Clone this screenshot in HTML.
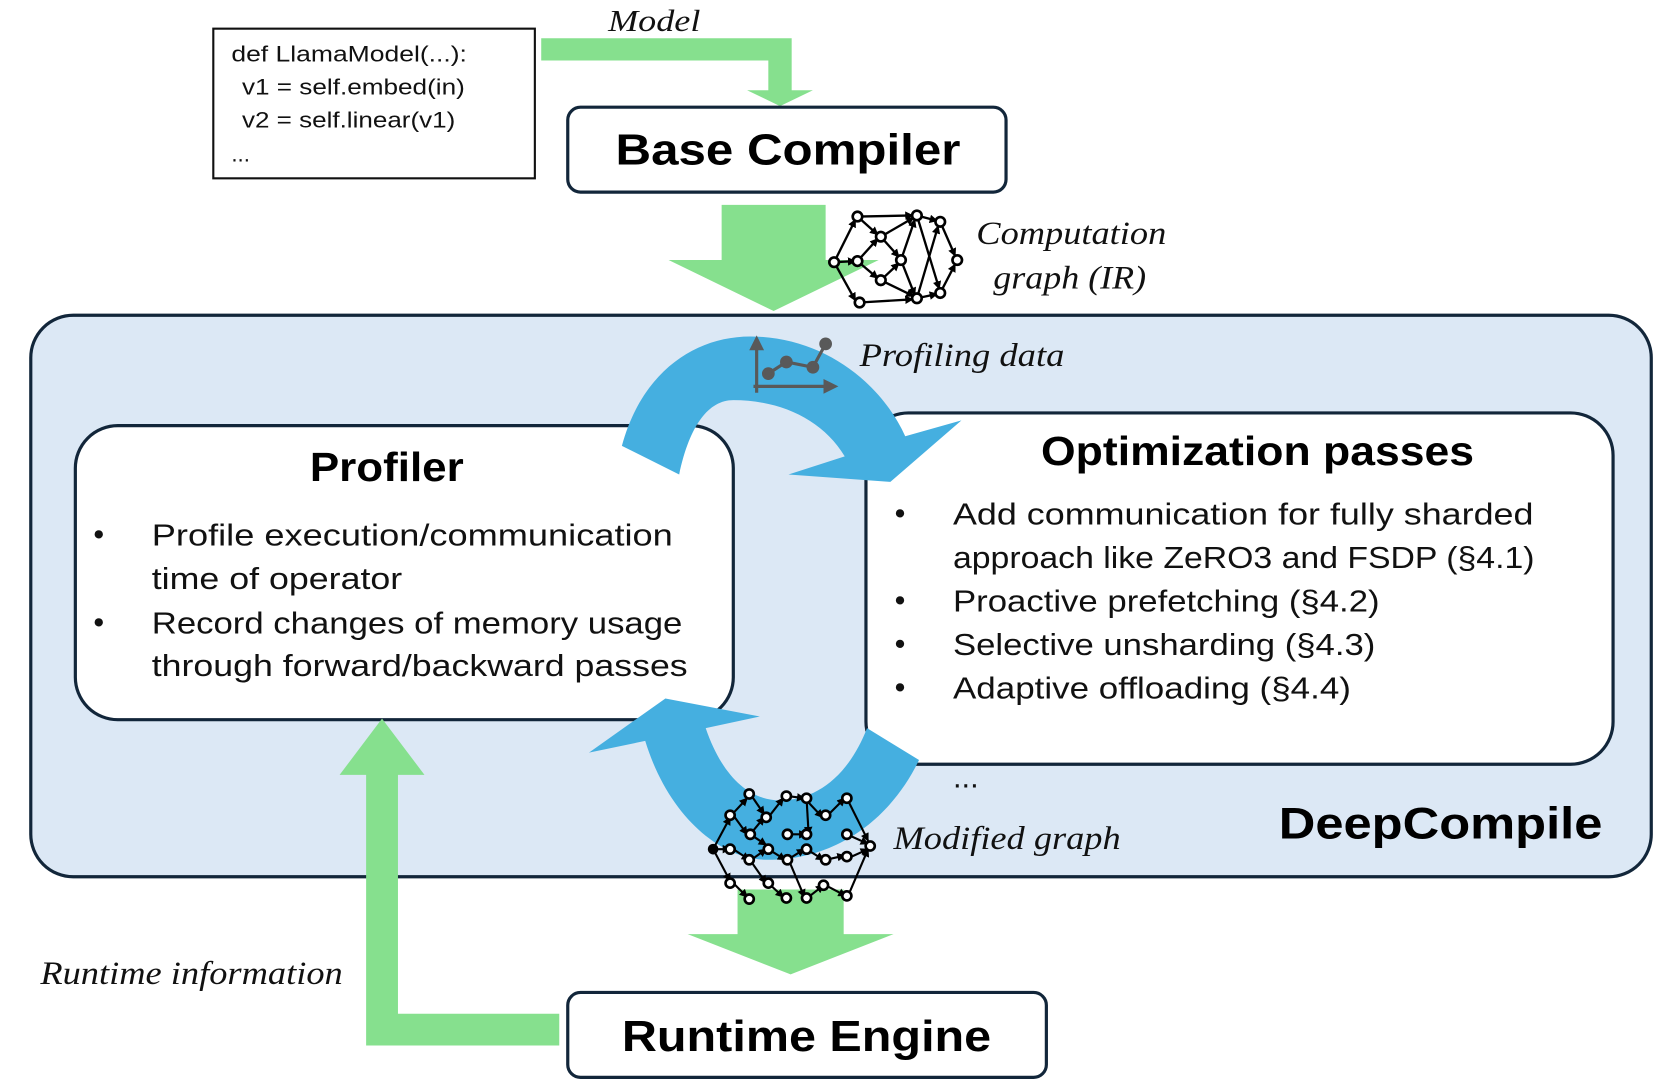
<!DOCTYPE html>
<html><head><meta charset="utf-8"><style>
html,body{margin:0;padding:0;background:#fff;}
svg{display:block;}
.s{font-family:"Liberation Sans",sans-serif;}
.i{font-family:"Liberation Serif",serif;font-style:italic;}
</style></head><body>
<svg width="1664" height="1088" viewBox="0 0 1568 1025" preserveAspectRatio="none" xmlns="http://www.w3.org/2000/svg">
<defs>
<marker id="ah" markerWidth="8" markerHeight="8" refX="7" refY="4" orient="auto" markerUnits="userSpaceOnUse"><path d="M0,0 L8,4 L0,8 Z" fill="#000"/></marker>
</defs>
<rect width="1568" height="1025" fill="#fff"/>
<!-- code box -->
<rect x="201" y="27" width="303" height="141" fill="#fff" stroke="#111" stroke-width="2"/>
<g class="s" font-size="21" fill="#111">
<text x="218" y="58" textLength="222" lengthAdjust="spacingAndGlyphs">def LlamaModel(...):</text>
<text x="228" y="89" textLength="210" lengthAdjust="spacingAndGlyphs">v1 = self.embed(in)</text>
<text x="228" y="120" textLength="201" lengthAdjust="spacingAndGlyphs">v2 = self.linear(v1)</text>
<text x="218" y="152">...</text>
</g>
<text class="i" x="573" y="29" font-size="29" textLength="87" lengthAdjust="spacingAndGlyphs" fill="#111">Model</text>
<!-- model arrow -->
<path d="M510,36 L746,36 L746,85 L766,85 L735,100 L704,85 L724,85 L724,57 L510,57 Z" fill="#86e08e"/>
<!-- base compiler -->
<rect x="535" y="101" width="413" height="80" rx="12" fill="#fff" stroke="#12263a" stroke-width="3"/>
<text class="s" x="580" y="155" font-size="41" font-weight="bold" textLength="325" lengthAdjust="spacingAndGlyphs" fill="#000">Base Compiler</text>
<!-- big green arrow -->
<path d="M680,193 L778,193 L778,245 L828,245 L729,293 L630,245 L680,245 Z" fill="#86e08e"/>
<!-- computation graph icon -->
<g stroke="#000" stroke-width="2.2" fill="none" marker-end="url(#ah)">
<line x1="786" y1="247" x2="806" y2="207"/><line x1="786" y1="247" x2="806" y2="283"/><line x1="786" y1="247" x2="806" y2="246"/>
<line x1="808" y1="204" x2="860" y2="203"/><line x1="808" y1="204" x2="827" y2="221"/>
<line x1="808" y1="246" x2="827" y2="225"/><line x1="808" y1="246" x2="827" y2="262"/>
<line x1="830" y1="223" x2="861" y2="205"/><line x1="830" y1="223" x2="847" y2="242"/>
<line x1="830" y1="264" x2="847" y2="248"/><line x1="830" y1="264" x2="861" y2="279"/>
<line x1="810" y1="285" x2="860" y2="282"/>
<line x1="849" y1="245" x2="862" y2="207"/><line x1="849" y1="245" x2="862" y2="278"/>
<line x1="864" y1="203" x2="883" y2="208"/><line x1="864" y1="203" x2="885" y2="272"/>
<line x1="864" y1="281" x2="884" y2="213"/><line x1="864" y1="281" x2="883" y2="277"/>
<line x1="886" y1="209" x2="900" y2="241"/><line x1="886" y1="276" x2="900" y2="249"/>
</g>
<g fill="#fff" stroke="#000" stroke-width="2.5">
<circle cx="808" cy="204" r="4.5"/><circle cx="864" cy="203" r="4.5"/><circle cx="886" cy="209" r="4.5"/><circle cx="830" cy="223" r="4.5"/>
<circle cx="786" cy="247" r="4.5"/><circle cx="808" cy="246" r="4.5"/><circle cx="849" cy="245" r="4.5"/><circle cx="902" cy="245" r="4.5"/>
<circle cx="830" cy="264" r="4.5"/><circle cx="810" cy="285" r="4.5"/><circle cx="864" cy="281" r="4.5"/><circle cx="886" cy="276" r="4.5"/>
</g>
<text class="i" x="920" y="230" font-size="31" textLength="179" lengthAdjust="spacingAndGlyphs" fill="#111">Computation</text>
<text class="i" x="936" y="272" font-size="31" textLength="144" lengthAdjust="spacingAndGlyphs" fill="#111">graph (IR)</text>
<!-- DeepCompile container -->
<rect x="29" y="297" width="1527" height="529" rx="40" fill="#dce8f5" stroke="#12263a" stroke-width="3"/>
<!-- profiler box -->
<rect x="71" y="401" width="620" height="277" rx="40" fill="#fff" stroke="#12263a" stroke-width="3"/>
<text class="s" x="292" y="453" font-size="38" font-weight="bold" textLength="145" lengthAdjust="spacingAndGlyphs" fill="#000">Profiler</text>
<g class="s" font-size="29" fill="#111">
<text x="88" y="513">•</text><text x="143" y="514" textLength="491" lengthAdjust="spacingAndGlyphs">Profile execution/communication</text>
<text x="143" y="555" textLength="236" lengthAdjust="spacingAndGlyphs">time of operator</text>
<text x="88" y="596">•</text><text x="143" y="597" textLength="500" lengthAdjust="spacingAndGlyphs">Record changes of memory usage</text>
<text x="143" y="637" textLength="505" lengthAdjust="spacingAndGlyphs">through forward/backward passes</text>
</g>
<!-- opt box -->
<rect x="816" y="389" width="704" height="331" rx="40" fill="#fff" stroke="#12263a" stroke-width="3"/>
<text class="s" x="981" y="438" font-size="38" font-weight="bold" textLength="408" lengthAdjust="spacingAndGlyphs" fill="#000">Optimization passes</text>
<g class="s" font-size="29" fill="#111">
<text x="843" y="493">•</text><text x="898" y="494" textLength="547" lengthAdjust="spacingAndGlyphs">Add communication for fully sharded</text>
<text x="898" y="535" textLength="548" lengthAdjust="spacingAndGlyphs">approach like ZeRO3 and FSDP (§4.1)</text>
<text x="843" y="575">•</text><text x="898" y="576" textLength="402" lengthAdjust="spacingAndGlyphs">Proactive prefetching (§4.2)</text>
<text x="843" y="616">•</text><text x="898" y="617" textLength="398" lengthAdjust="spacingAndGlyphs">Selective unsharding (§4.3)</text>
<text x="843" y="657">•</text><text x="898" y="658" textLength="375" lengthAdjust="spacingAndGlyphs">Adaptive offloading (§4.4)</text>
<text x="898" y="742">...</text>
</g>
<text class="s" x="1205" y="790" font-size="42" font-weight="bold" textLength="305" lengthAdjust="spacingAndGlyphs" fill="#000">DeepCompile</text>
<!-- blue arcs -->
<path d="M586,420 C605,350 655,317 707,317 C775,317 830,360 853,411 L906,396 L839,454 L743,447 L796,430 C775,395 735,377 691,377 C668,377 650,400 640,447 Z" fill="#45afe0"/>
<path d="M608,698 C630,770 680,810 723,810 C790,810 840,770 866,716 L817,686 C800,730 770,754 735,754 C705,754 680,730 665,686 L716,675 L627,658 L555,709 Z" fill="#45afe0"/>
<!-- profiling data icon -->
<g stroke="#595959" stroke-width="3" fill="#595959">
<line x1="713" y1="370" x2="713" y2="322"/><path d="M706,330 L713,316 L720,330 Z" stroke="none"/>
<line x1="710" y1="364" x2="778" y2="364"/><path d="M776,357 L790,364 L776,371 Z" stroke="none"/>
<polyline points="724,352 741,341 766,346 778,324" fill="none"/>
<circle cx="724" cy="352" r="4.5"/><circle cx="741" cy="341" r="4.5"/><circle cx="766" cy="346" r="4.5"/><circle cx="778" cy="324" r="4.5"/>
</g>
<text class="i" x="810" y="345" font-size="31" textLength="193" lengthAdjust="spacingAndGlyphs" fill="#111">Profiling data</text>
<!-- bottom green arrow -->
<path d="M695,838 L795,838 L795,880 L842,880 L745,918 L648,880 L695,880 Z" fill="#86e08e"/>
<!-- modified graph icon -->
<g stroke="#000" stroke-width="2" fill="none" marker-end="url(#ah)">
<line x1="672" y1="800" x2="688" y2="770"/><line x1="672" y1="800" x2="688" y2="830"/><line x1="672" y1="800" x2="688" y2="800"/>
<line x1="691" y1="766" x2="704" y2="752"/><line x1="707" y1="748" x2="720" y2="767"/><line x1="691" y1="768" x2="704" y2="786"/>
<line x1="707" y1="786" x2="720" y2="770"/><line x1="724" y1="770" x2="738" y2="752"/><line x1="742" y1="750" x2="758" y2="752"/>
<line x1="760" y1="752" x2="762" y2="786"/><line x1="760" y1="754" x2="775" y2="770"/><line x1="780" y1="768" x2="796" y2="752"/>
<line x1="798" y1="752" x2="818" y2="792"/><line x1="798" y1="786" x2="818" y2="795"/><line x1="798" y1="809" x2="818" y2="800"/>
<line x1="691" y1="800" x2="706" y2="810"/><line x1="708" y1="810" x2="722" y2="800"/><line x1="724" y1="800" x2="740" y2="810"/>
<line x1="742" y1="810" x2="758" y2="800"/><line x1="760" y1="800" x2="776" y2="810"/><line x1="778" y1="810" x2="796" y2="806"/>
<line x1="691" y1="832" x2="704" y2="845"/><line x1="708" y1="812" x2="722" y2="832"/><line x1="724" y1="832" x2="738" y2="845"/>
<line x1="744" y1="812" x2="758" y2="845"/><line x1="762" y1="845" x2="776" y2="834"/><line x1="778" y1="834" x2="797" y2="844"/>
<line x1="800" y1="842" x2="818" y2="800"/><line x1="707" y1="786" x2="722" y2="796"/><line x1="742" y1="786" x2="760" y2="786"/>
</g>
<g fill="#fff" stroke="#000" stroke-width="2.5">
<circle cx="706" cy="748" r="4.3"/><circle cx="741" cy="750" r="4.3"/><circle cx="760" cy="752" r="4.3"/><circle cx="798" cy="752" r="4.3"/>
<circle cx="688" cy="768" r="4.3"/><circle cx="722" cy="770" r="4.3"/><circle cx="778" cy="768" r="4.3"/>
<circle cx="707" cy="786" r="4.3"/><circle cx="742" cy="786" r="4.3"/><circle cx="760" cy="786" r="4.3"/><circle cx="798" cy="786" r="4.3"/>
<circle cx="688" cy="800" r="4.3"/><circle cx="724" cy="800" r="4.3"/><circle cx="760" cy="800" r="4.3"/><circle cx="820" cy="797" r="4.3"/>
<circle cx="706" cy="810" r="4.3"/><circle cx="742" cy="810" r="4.3"/><circle cx="778" cy="810" r="4.3"/><circle cx="798" cy="807" r="4.3"/>
<circle cx="688" cy="832" r="4.3"/><circle cx="724" cy="832" r="4.3"/><circle cx="776" cy="834" r="4.3"/><circle cx="798" cy="844" r="4.3"/>
<circle cx="706" cy="847" r="4.3"/><circle cx="741" cy="846" r="4.3"/><circle cx="760" cy="846" r="4.3"/>
</g>
<circle cx="672" cy="800" r="5" fill="#000"/>
<text class="i" x="842" y="800" font-size="31" textLength="214" lengthAdjust="spacingAndGlyphs" fill="#111">Modified graph</text>
<!-- runtime info arrow -->
<path d="M345,985 L527,985 L527,955 L375,955 L375,730 L400,730 L360,677 L320,730 L345,730 Z" fill="#86e08e"/>
<text class="i" x="38" y="927" font-size="31" textLength="285" lengthAdjust="spacingAndGlyphs" fill="#111">Runtime information</text>
<!-- runtime engine -->
<rect x="535" y="935" width="451" height="80" rx="12" fill="#fff" stroke="#12263a" stroke-width="3"/>
<text class="s" x="586" y="990" font-size="41" font-weight="bold" textLength="348" lengthAdjust="spacingAndGlyphs" fill="#000">Runtime Engine</text>
</svg>
</body></html>
